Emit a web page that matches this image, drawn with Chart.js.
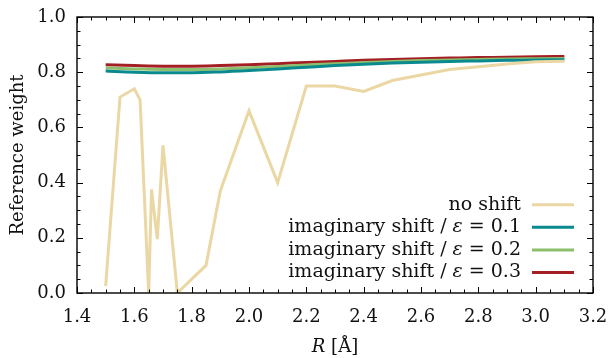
<!DOCTYPE html>
<html><head><meta charset="utf-8">
<script src="https://cdn.jsdelivr.net/npm/chart.js@4/dist/chart.umd.min.js"></script>
<style>html,body{margin:0;padding:0;background:#fff}#wrap{width:608px;height:358px;position:relative}</style>
</head><body><div id="wrap"><canvas id="c" width="608" height="358"></canvas></div>
<script>
// ---- data ----
const rNoShift = [1.5,1.55,1.6,1.62,1.65,1.66,1.68,1.70,1.75,1.8,1.85,1.9,2.0,2.1,2.2,2.3,2.4,2.5,2.6,2.7,2.8,2.9,3.0,3.1];
const wNoShift = [0.025,0.71,0.74,0.70,0.0,0.375,0.195,0.535,0.0,0.05,0.10,0.37,0.66,0.40,0.75,0.75,0.73,0.77,0.79,0.81,0.82,0.83,0.838,0.84];
const rImag = [1.5,1.6,1.7,1.8,1.9,2.0,2.1,2.2,2.3,2.4,2.5,2.6,2.7,2.8,2.9,3.0,3.1];
const wEps01 = [0.804,0.800,0.798,0.798,0.801,0.806,0.812,0.818,0.824,0.829,0.833,0.836,0.839,0.841,0.843,0.844,0.845];
const wEps02 = [0.815,0.812,0.810,0.810,0.812,0.816,0.821,0.826,0.831,0.835,0.839,0.842,0.844,0.846,0.848,0.849,0.850];
const wEps03 = [0.827,0.824,0.822,0.822,0.824,0.827,0.831,0.835,0.839,0.843,0.846,0.849,0.851,0.853,0.854,0.856,0.857];
const seriesLabels = ['no shift','imaginary shift / ε = 0.1','imaginary shift / ε = 0.2','imaginary shift / ε = 0.3'];
const xTickLabels = ['1.4','1.6','1.8','2.0','2.2','2.4','2.6','2.8','3.0','3.2'];
const yTickLabels = ['0.0','0.2','0.4','0.6','0.8','1.0'];
const xTitle = ['R',' [Å]'];
const yTitle = 'Reference weight';

const colors = ['#ead7a4','#0a8a8f','#8cbf6c','#a31f24'];
const FONT = "'DejaVu Serif', 'Liberation Serif', serif";
const FS = 18;
const LFS = 19;

const pts = (xs, ys) => xs.map((x,i)=>({x, y: ys[i]}));

const decor = {
  id:'decor',
  afterDraw(chart){
    const {ctx, chartArea:a, scales:{x,y}} = chart;
    ctx.save();
    ctx.strokeStyle='#000'; ctx.lineWidth=1;
    const xmin=1.4, ymin=0;
    for(let i=0;i<=36;i++){
      const p = Math.round(x.getPixelForValue(xmin+i*0.05))+0.5;
      const L = (i%4===0)?6:3.5;
      ctx.beginPath();
      ctx.moveTo(p,a.bottom); ctx.lineTo(p,a.bottom-L);
      ctx.moveTo(p,a.top); ctx.lineTo(p,a.top+L);
      ctx.stroke();
    }
    for(let i=0;i<=20;i++){
      const p = Math.round(y.getPixelForValue(ymin+i*0.05))+0.5;
      const L = (i%4===0)?6:3.5;
      ctx.beginPath();
      ctx.moveTo(a.left,p); ctx.lineTo(a.left+L,p);
      ctx.moveTo(a.right,p); ctx.lineTo(a.right-L,p);
      ctx.stroke();
    }
    ctx.lineWidth=1.4;
    ctx.strokeRect(a.left,a.top,a.right-a.left,a.bottom-a.top);

    // legend
    ctx.textBaseline='middle';
    const lineR = a.right-19, lineL = a.right-61, textR = a.right-72;
    const rowH = 22.6, lastY = a.bottom-20.5;
    const n = chart.data.datasets.length;
    chart.data.datasets.forEach((ds,i)=>{
      const yy = lastY - (n-1-i)*rowH;
      const parts = ds.label.split('ε');
      const segs = parts.length>1 ? [[parts[0],false],['ε',true],[parts[1],false]] : [[parts[0],false]];
      let w=0;
      segs.forEach(([t,it])=>{ctx.font=(it?'italic ':'')+LFS+'px '+FONT; w+=ctx.measureText(t).width;});
      let xx = textR - w;
      ctx.fillStyle='#111';
      segs.forEach(([t,it])=>{ctx.font=(it?'italic ':'')+LFS+'px '+FONT; ctx.textAlign='left'; ctx.fillText(t,xx,yy); xx+=ctx.measureText(t).width;});
      ctx.strokeStyle=ds.borderColor; ctx.lineWidth=3;
      ctx.beginPath(); ctx.moveTo(lineL,yy); ctx.lineTo(lineR,yy); ctx.stroke();
    });

    // x title
    ctx.fillStyle='#111'; ctx.textBaseline='alphabetic';
    ctx.font='italic '+FS+'px '+FONT; const w1=ctx.measureText(xTitle[0]).width;
    ctx.font=FS+'px '+FONT; const w2=ctx.measureText(xTitle[1]).width;
    let sx = (a.left+a.right)/2 - (w1+w2)/2;
    ctx.font='italic '+FS+'px '+FONT; ctx.textAlign='left'; ctx.fillText(xTitle[0],sx,352);
    ctx.font=FS+'px '+FONT; ctx.fillText(xTitle[1],sx+w1,352);
    // y title
    ctx.translate(18,(a.top+a.bottom)/2); ctx.rotate(-Math.PI/2);
    ctx.textAlign='center'; ctx.textBaseline='middle';
    ctx.fillText(yTitle,0,0);
    ctx.restore();
  }
};

Chart.defaults.font.family = FONT;
Chart.defaults.font.size = FS;
Chart.defaults.color = '#111';

new Chart(document.getElementById('c'), {
  type:'line',
  data:{datasets:[
    {label:seriesLabels[0], data:pts(rNoShift,wNoShift), borderColor:colors[0], borderWidth:3, pointRadius:0, tension:0},
    {label:seriesLabels[1], data:pts(rImag,wEps01), borderColor:colors[1], borderWidth:3, pointRadius:0, cubicInterpolationMode:'monotone'},
    {label:seriesLabels[2], data:pts(rImag,wEps02), borderColor:colors[2], borderWidth:3, pointRadius:0, cubicInterpolationMode:'monotone'},
    {label:seriesLabels[3], data:pts(rImag,wEps03), borderColor:colors[3], borderWidth:3, pointRadius:0, cubicInterpolationMode:'monotone'}
  ]},
  options:{
    responsive:false, animation:false, devicePixelRatio:1,
    layout:{padding:{left:0,top:17,right:15,bottom:0}},
    plugins:{legend:{display:false}, tooltip:{enabled:false}},
    scales:{
      x:{type:'linear', min:1.4, max:3.2,
         grid:{display:false, drawTicks:false}, border:{display:false},
         ticks:{stepSize:0.2, padding:14, maxRotation:0, autoSkip:false,
                callback:(v,i)=>xTickLabels[i]},
         afterFit:(s)=>{s.height=65; s.paddingLeft=0; s.paddingRight=0;}},
      y:{min:0, max:1,
         grid:{display:false, drawTicks:false}, border:{display:false},
         ticks:{stepSize:0.2, padding:11, callback:(v,i)=>yTickLabels[i]},
         afterFit:(s)=>{s.width=77; s.paddingTop=0; s.paddingBottom=0;}}
    }
  },
  plugins:[decor]
});
</script></body></html>
